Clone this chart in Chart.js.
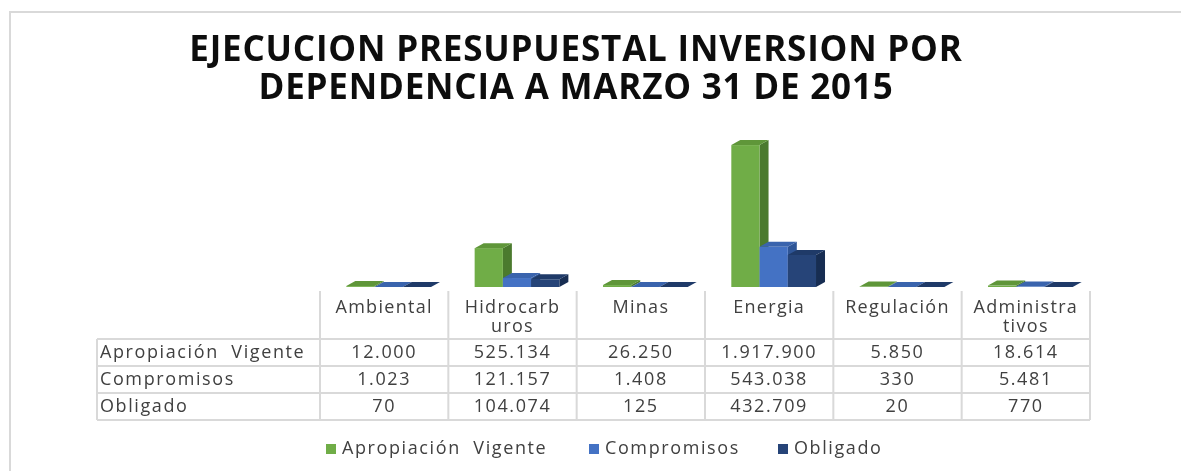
<!DOCTYPE html>
<html><head><meta charset="utf-8">
<script src="https://cdn.jsdelivr.net/npm/chart.js@4.4.1/dist/chart.umd.min.js"></script>
<style>
html,body{margin:0;padding:0;background:#fff;overflow:hidden;}
#wrap{position:relative;width:1181px;height:471px;overflow:hidden;}
#frame{position:absolute;left:9px;top:11px;width:1300px;height:600px;border:2px solid #d9d9d9;box-sizing:border-box}
canvas{position:absolute;left:0;top:0}
</style></head><body>
<div id="wrap"><div id="frame"></div><canvas id="c" width="1181" height="471"></canvas></div>
<script>
const titleLines = ['EJECUCION PRESUPUESTAL INVERSION POR', 'DEPENDENCIA A MARZO 31 DE 2015'];
const categories = [['Ambiental'], ['Hidrocarb', 'uros'], ['Minas'], ['Energia'], ['Regulación'], ['Administra', 'tivos']];
const seriesNames = ['Apropiación  Vigente', 'Compromisos', 'Obligado'];
const apropiacionVigente = [12000, 525134, 26250, 1917900, 5850, 18614];
const compromisos = [1023, 121157, 1408, 543038, 330, 5481];
const obligado = [70, 104074, 125, 432709, 20, 770];
const seriesValues = [apropiacionVigente, compromisos, obligado];

const frontColors = ['#70ad47', '#4472c4', '#264478'];
const topColors = ['#5f9639', '#3a64ad', '#1f3a68'];
const sideColors = ['#4b7a2e', '#2e5597', '#172d52'];
const gridColor = '#d9d9d9';
const textColor = '#404040';
const FONT = '"Open Sans", "Liberation Sans", sans-serif';
const DX = 9, DY = 5, SHIFT = 4.5;

function fmt(v) { return String(v).replace(/\B(?=(\d{3})+(?!\d))/g, '.'); }
function poly(ctx, pts, color) {
  ctx.beginPath();
  ctx.moveTo(pts[0][0], pts[0][1]);
  for (let k = 1; k < pts.length; k++) ctx.lineTo(pts[k][0], pts[k][1]);
  ctx.closePath();
  ctx.fillStyle = color;
  ctx.fill();
}
function txt(ctx, s, x, y, align, font, spacing) {
  ctx.save();
  ctx.font = font;
  ctx.letterSpacing = spacing || '0px';
  ctx.textAlign = align;
  ctx.textBaseline = 'middle';
  ctx.fillStyle = textColor;
  ctx.fillText(s, x, y);
  ctx.restore();
}

const bars3d = {
  id: 'bars3d',
  beforeDatasetDraw() { return false; },
  afterDatasetsDraw(chart) {
    const ctx = chart.ctx;
    const n = chart.data.labels.length;
    for (let i = 0; i < n; i++) {
      chart.data.datasets.forEach((ds, d) => {
        const el = chart.getDatasetMeta(d).data[i];
        const p = el.getProps(['x', 'y', 'base', 'width'], true);
        const l = p.x - p.width / 2 + SHIFT, r = p.x + p.width / 2 + SHIFT, t = p.y, b = p.base;
        poly(ctx, [[r, t], [r + DX, t - DY], [r + DX, b - DY], [r, b]], sideColors[d]);
        ctx.fillStyle = frontColors[d];
        ctx.fillRect(l, t, r - l, b - t);
        poly(ctx, [[l, t], [r, t], [r + DX, t - DY], [l + DX, t - DY]], topColors[d]);
      });
    }
  }
};

const tableAndText = {
  id: 'tableAndText',
  afterDraw(chart) {
    const ctx = chart.ctx;
    const xs = chart.scales.x;
    const n = categories.length;
    const cw = (xs.right - xs.left) / n;
    const tableLeft = 97, headTop = 291, headBottom = 339, rowH = 27;
    const tableBottom = headBottom + rowH * seriesNames.length;
    const bodyFont = '18px ' + FONT;
    const sp = '1.6px';

    // title
    ctx.save();
    ctx.fillStyle = '#0d0d0d';
    ctx.font = 'bold 35px ' + FONT;
    ctx.letterSpacing = '0.8px';
    ctx.textAlign = 'center';
    ctx.textBaseline = 'middle';
    ctx.fillText(titleLines[0], 576, 51);
    ctx.fillText(titleLines[1], 576, 89);
    ctx.restore();

    // grid
    ctx.save();
    ctx.strokeStyle = gridColor;
    ctx.lineWidth = 2;
    ctx.beginPath();
    for (let r = 0; r <= seriesNames.length; r++) {
      const y = headBottom + r * rowH;
      ctx.moveTo(tableLeft, y); ctx.lineTo(xs.right, y);
    }
    ctx.moveTo(tableLeft, headBottom); ctx.lineTo(tableLeft, tableBottom);
    for (let c = 0; c <= n; c++) {
      const x = xs.left + c * cw;
      ctx.moveTo(x, headTop); ctx.lineTo(x, tableBottom);
    }
    ctx.stroke();
    ctx.restore();

    // header
    categories.forEach((lines, i) => {
      const cx = xs.getPixelForTick(i);
      lines.forEach((s, k) => txt(ctx, s, cx, 308 + k * 19, 'center', bodyFont, '1.3px'));
    });
    // rows
    seriesNames.forEach((name, r) => {
      const cy = headBottom + r * rowH + rowH / 2 + 0.5;
      txt(ctx, name, tableLeft + 3, cy, 'left', bodyFont, sp);
      seriesValues[r].forEach((v, i) => txt(ctx, fmt(v), xs.getPixelForTick(i), cy, 'center', bodyFont, sp));
    });

    // legend
    const legendX = [326, 589, 778];
    seriesNames.forEach((name, d) => {
      ctx.fillStyle = frontColors[d];
      ctx.fillRect(legendX[d], 444, 10, 10);
      txt(ctx, name, legendX[d] + 16, 449, 'left', bodyFont, sp);
    });
  }
};

new Chart(document.getElementById('c'), {
  type: 'bar',
  data: {
    labels: categories.map(c => c.join('')),
    datasets: seriesNames.map((name, d) => ({
      label: name,
      data: seriesValues[d],
      backgroundColor: frontColors[d],
      barPercentage: 1,
      categoryPercentage: 0.66
    }))
  },
  options: {
    responsive: false,
    animation: false,
    events: [],
    layout: { padding: { left: 320, right: 91, top: 139, bottom: 184 } },
    scales: {
      x: { display: false },
      y: { display: false, min: 0, max: 2000000 }
    },
    plugins: { legend: { display: false }, title: { display: false }, tooltip: { enabled: false } }
  },
  plugins: [bars3d, tableAndText]
});
</script>
</body></html>
